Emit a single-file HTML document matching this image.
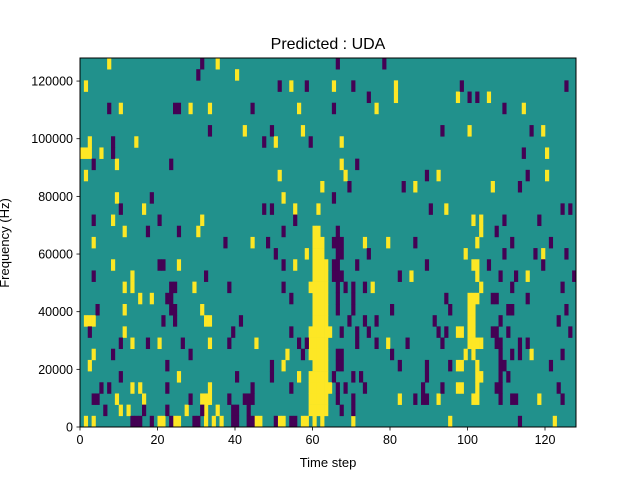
<!DOCTYPE html>
<html><head><meta charset="utf-8"><style>
body{margin:0;background:#fff;}
svg text{font-family:"Liberation Sans",sans-serif;fill:#000;}
</style></head><body>
<svg id="chart" width="640" height="480" viewBox="0 0 640 480" xmlns="http://www.w3.org/2000/svg">
<rect width="640" height="480" fill="#fff"/>
<g id="cells"></g>
<g id="axes"></g>
<text x="328" y="49" text-anchor="middle" font-size="16">Predicted : UDA</text>
<text x="328" y="467" text-anchor="middle" font-size="13">Time step</text>
<text transform="translate(9,243) rotate(-90)" text-anchor="middle" font-size="13">Frequency (Hz)</text>
</svg>
<script>
// 33 frequency bins (index 0 = top bin), 128 time steps
const nCols = 128;
const nRows = 33;
const yellowCols = [
[7,35],[40],[1,54,65,81],[81,97,105],[10,28,33,56,76,114],[],[42,57,100,119],[2,14,50,67],
[0,1,2,5,120],[9,67],[1,51,68,92,120],[62,86,106],[9,52],[16,55,61,94],[8,31,101,103],[11,30,60,61,103],
[3,44,60,61,62,73,79,102],[58,60,61,62,99,119],[8,25,55,60,61,62,63,101,102],[13,60,61,62,63,85,102,115],[11,13,29,59,60,61,62,63,75,103],[15,18,60,61,62,63,100,101,102],[11,31,60,61,62,63,100,101],[1,2,3,32,33,60,61,62,63,100,101],
[11,59,60,61,62,63,64,97,98,100,101],[13,20,33,45,59,60,61,62,63,79,100,101,102,103],[3,53,59,60,61,62,63,99,101,116],[2,52,60,61,62,63,97,98,102],[25,56,59,60,61,62,63,102,103],[13,15,33,59,60,61,62,63,64,97,98,102],[9,16,31,32,33,59,60,61,62,63,82,92,101,102,118],[10,12,27,32,35,59,60,61,62,63],
[1,3,20,21,24,25,32,34,36,45,46,51,52,57,58,60,62,70,95,122]
];
const purpleCols = [
[31,66,78],[30],[51,58,70,98,125],[74,100,102],[7,24,25,44,65,109],[],[33,49,93,116],[8,47,59],
[8,114],[3,23,71],[89,115],[69,83,113],[18,65],[10,47,49,90,124,126],[3,20,55,109,118],[17,25,52,66,107],
[37,48,65,66,67,86,111,121],[50,66,67,74,109,117,125],[20,21,52,65,66,71,89,105,119],[3,32,65,66,67,82,108,112,127],[23,24,38,52,66,68,70,73,111,124],[22,23,54,66,70,94,106,107,115],[4,23,24,66,70,80,95,110,111,125],[21,24,41,69,73,76,91,108,123],
[2,39,54,67,71,74,92,94,106,107,110,126],[10,17,26,38,56,58,71,76,84,93,107,108,113,115],[8,28,57,66,67,80,108,111,113,124],[22,49,66,67,82,89,95,108,109,121],[10,40,49,65,70,72,89,108,110],[5,7,22,44,54,66,68,73,88,93,107,108,123],[3,4,28,38,42,43,44,66,70,86,88,89,108,111,112,124],[6,16,22,31,39,40,43,67,70],
[13,14,15,18,23,29,30,39,40,43,44,50,54,55,113]
];
const xTicks = [0,20,40,60,80,100,120];
const yTicks = [0,20000,40000,60000,80000,100000,120000];
const xMax = 128, yMax = 128000;

const L=80,R=576,T=58,B=427;
const xs = v => L + v/xMax*(R-L);
const ys = v => B - v/yMax*(B-T);
const NS="http://www.w3.org/2000/svg";
const cells=document.getElementById('cells');
const axes=document.getElementById('axes');
const rowH=(B-T)/nRows, colW=(R-L)/nCols;
function mk(tag,attrs,parent){const e=document.createElementNS(NS,tag);for(const k in attrs)e.setAttribute(k,attrs[k]);parent.appendChild(e);return e;}
const bg=mk('rect',{x:L,y:T,width:R-L,height:B-T,fill:'#21918c'},cells);


function drawCells(list,color,name){
  list.forEach((cols,r)=>{
    cols.forEach(c=>{
      const y0=ys((nRows-r)*yMax/nRows);
      const e=mk('rect',{x:xs(c),y:y0,width:colW+0.3,height:rowH+0.3,fill:color},cells);
      
      
    });
  });
}
drawCells(yellowCols,'#fde725','cell-high');
drawCells(purpleCols,'#440154','cell-low');
const frame=mk('rect',{x:L,y:T,width:R-L,height:B-T,fill:'none',stroke:'#000','stroke-width':1},axes);


xTicks.forEach(v=>{
  const x=xs(v);
  const t=mk('line',{x1:x,x2:x,y1:B,y2:B+3.5,stroke:'#000','stroke-width':0.8},axes);
  
  
  const l=mk('text',{x:x,y:B+17,'text-anchor':'middle','font-size':12.5},axes);
  l.textContent=v;
  
  
});
yTicks.forEach(v=>{
  const y=ys(v);
  const t=mk('line',{x1:L-3.5,x2:L,y1:y,y2:y,stroke:'#000','stroke-width':0.8},axes);
  
  
  const l=mk('text',{x:L-7,y:y+4.5,'text-anchor':'end','font-size':12.5},axes);
  l.textContent=v;
  
  
});
</script>
</body></html>
